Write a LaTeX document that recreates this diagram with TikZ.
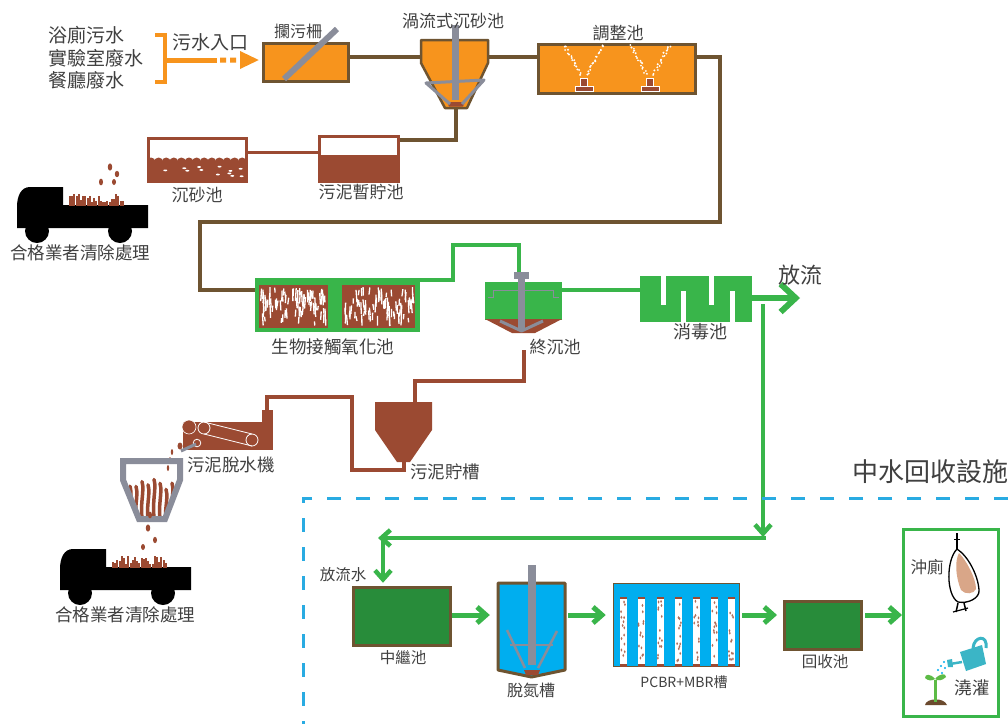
\documentclass[tikz,border=0pt]{standalone}
\usepackage{fontspec}
\newfontfamily\cjk{Noto Sans CJK TC}
\usetikzlibrary{arrows.meta,calc}

\definecolor{orng}{HTML}{F7941D}
\definecolor{pipebr}{HTML}{6E5431}
\definecolor{sludge}{HTML}{9B4A32}
\definecolor{grn}{HTML}{39B54A}
\definecolor{dgrn}{HTML}{288C3A}
\definecolor{blu}{HTML}{00AEEF}
\definecolor{dashblu}{HTML}{29ABE2}
\definecolor{metal}{HTML}{8A8D9A}
\definecolor{txt}{HTML}{404040}
\definecolor{skin}{HTML}{D9A688}
\definecolor{canteal}{HTML}{3BB5C6}
\definecolor{sprout}{HTML}{5DBB46}
\definecolor{soil}{HTML}{6B4A2E}

\tikzset{
  lbl/.style={font=\cjk\fontsize{#1}{#1}\selectfont, text=txt, inner sep=0pt},
  lbl/.default=17,
  tank/.style={draw=pipebr, line width=3.5pt, inner sep=0pt},
  pipe/.style={draw=pipebr, line width=4.5pt},
  slpipe/.style={draw=sludge, line width=4pt},
  gpipe/.style={draw=grn, line width=4pt},
  garrow/.style={draw=grn, line width=5pt, -{Straight Barb[length=9pt,width=16pt]}},
  chunk/.style={fill=sludge},
  truck/.pic={
    \fill[black] (0,41) -- (0,20) .. controls (0,9) and (4,0) .. (13,0) -- (46,0) -- (46,18) -- (131,18) -- (131,41) -- cycle;
    \fill[black] (20,44) circle[radius=12pt];
    \fill[black] (103,44) circle[radius=12pt];
    \foreach \k in {0,...,24}{
      \pgfmathsetmacro{\qa}{52+\k*2.2}
      \pgfmathsetmacro{\qb}{3+rnd*9}
      \fill[sludge] (\qa,18.5) rectangle ++(2,-\qb);
    }
  }
}

\begin{document}
\begin{tikzpicture}[x=1pt,y=-1pt]
\useasboundingbox (0,0) rectangle (1008,724);
\fill[white] (0,0) rectangle (1008,724);
\pgfmathsetseed{42}

% ---------------- inlet ----------------
\node[lbl=19, anchor=west] (src1) at (48,35) {浴廁污水};
\node[lbl=19, anchor=west] (src2) at (48,58) {實驗室廢水};
\node[lbl=19, anchor=west] (src3) at (48,80) {餐廳廢水};
\draw[orng, line width=4pt] (155,35) -- (165,35) -- (165,82) -- (155,82);
\coordinate (inlet) at (165,60);
\node[lbl=19] (inl) at (210,42) {污水入口};

% bar screen
\node[tank, fill=orng, minimum width=85pt, minimum height=38pt] (screen) at (306,62.5) {};
\draw[metal, line width=6pt] (284,79) -- (337,29);
\node[lbl=16] (screenL) at (298,31) {攔污柵};
\draw[orng, line width=5pt] (inlet) -- (217,60);
\fill[orng] (220,57.5) rectangle (226,62.5) (230,57.5) rectangle (236,62.5);
\fill[orng] (240,51) -- ($(screen.west |- inlet)+(-3,0)$) -- (240,69) -- cycle;

% vortex grit chamber
\coordinate (vxL) at (421,57);
\coordinate (vxR) at (488,57);
\coordinate (vxB) at (456,108);
\filldraw[draw=pipebr, fill=orng, line width=2.5pt, line join=round]
  (421,40) -- (488,40) -- (488,63) -- (467,108) -- (445,108) -- (421,63) -- cycle;
\fill[sludge] (447,102) -- (465,102) -- (463,106.5) -- (449,106.5) -- cycle;
\draw[metal, line width=7pt] (455,25) -- (455,100);
\draw[metal, line width=3pt, line join=round] (450,104) -- (426,83) -- (484,80) -- (462,104);
\node[lbl=17] (vxLbl) at (453,21) {渦流式沉砂池};
\draw[pipe] (screen.east |- vxL) -- (vxL);

% equalization tank
\node[tank, fill=orng, minimum width=157pt, minimum height=49pt] (eq) at (617,69) {};
\node[lbl=17] (eqLbl) at (618,33) {調整池};
\draw[pipe] (vxR) -- (eq.west |- vxR);
\foreach \cx in {584,650}{
  \foreach \k in {0,...,8}{
    \pgfmathsetmacro{\tv}{\k/8}
    \pgfmathsetmacro{\yy}{74-27*\tv}
    \fill[white] ({\cx-3-15*\tv+2*rnd-1},{\yy+2*rnd-1}) circle[radius=1.1pt];
    \fill[white] ({\cx+3+15*\tv+2*rnd-1},{\yy+2*rnd-1}) circle[radius=1.1pt];
    \fill[white] ({\cx-6-15*\tv+3*rnd},{\yy-2+2*rnd}) circle[radius=1pt];
    \fill[white] ({\cx+3+15*\tv+3*rnd},{\yy-2+2*rnd}) circle[radius=1pt];
  }
  \filldraw[fill=sludge, draw=white, line width=0.6pt] (\cx-3.5,78) rectangle (\cx+3.5,86);
  \filldraw[fill=sludge, draw=white, line width=0.6pt] (\cx-9,86) rectangle (\cx+9,91);
}

% main trunk to the contact oxidation tank
\node[draw=grn, fill=grn, line width=5pt, minimum width=160pt, minimum height=49pt] (bio) at (337.5,305) {};
\coordinate (bioIn) at (0,290);
\draw[pipe, line join=miter] (eq.east |- vxL) -- (720,57) -- (720,222) -- (200,222) -- (200,290) -- (bio.west |- bioIn);

% grit tank and sludge holding tank
\node[draw=sludge, line width=3pt, minimum width=98pt, minimum height=43pt] (grit) at (197.5,160) {};
\begin{scope}
  \clip (149,139) rectangle (246,181.5);
  \fill[sludge] (149,162) rectangle (246,182);
  \foreach \k in {0,...,12} \fill[sludge] (151+\k*7.6,162) circle[radius=4.5pt];
  \foreach \k in {1,...,12}{
    \pgfmathsetmacro{\qa}{152+rnd*90}
    \pgfmathsetmacro{\qb}{166+rnd*12}
    \fill[white] (\qa,\qb) ellipse[x radius=2pt, y radius=0.9pt];
  }
\end{scope}
\node[lbl] (gritLbl) at (197,195) {沉砂池};

\node[draw=sludge, line width=3pt, minimum width=79pt, minimum height=45pt] (hold) at (359,159) {};
\fill[sludge] (319,155) rectangle (399,182);
\node[lbl] (holdLbl) at (361,192) {污泥暫貯池};
\coordinate (gl) at (0,152);
\draw[draw=sludge, line width=3pt] (grit.east |- gl) -- (hold.west |- gl);
\coordinate (hl) at (0,140);
\draw[draw=pipebr, line width=3.5pt, line join=miter] (vxB) -- (456,140) -- (hold.east |- hl);

% truck 1
\pic at (17,187) {truck};
\fill[chunk] (110,167) ellipse[x radius=2.2pt, y radius=3.6pt];
\fill[chunk] (117,174) ellipse[x radius=2.2pt, y radius=3.2pt];
\fill[chunk] (101,182) ellipse[x radius=2pt, y radius=3.4pt];
\fill[chunk] (114,182) ellipse[x radius=2pt, y radius=3pt];
\node[lbl=17.5] (t1Lbl) at (80,253) {合格業者清除處理};

% contact oxidation tank media
\foreach \bx/\bw in {259/69,342/73}{
  \fill[sludge] (\bx,285) rectangle ++(\bw,43);
  \foreach \k in {1,...,80}{
    \pgfmathsetmacro{\qc}{4+rnd*9}
    \pgfmathsetmacro{\qa}{\bx+2+rnd*(\bw-4)}
    \pgfmathsetmacro{\qb}{287+rnd*(39-\qc)}
    \draw[white, line width=1.3pt] (\qa,\qb) -- ++({rnd*2-1},\qc);
  }
}
\node[lbl=17.5] (bioLbl) at (333,347) {生物接觸氧化池};

% final clarifier
\node[fill=grn, inner sep=0pt, minimum width=77pt, minimum height=38pt] (fcl) at (523.5,301) {};
\fill[sludge] (485,319) -- (562,319) -- (535,333) -- (512,333) -- cycle;
\draw[metal, line width=1pt] (488,297) -- (493,297) -- (493,290) -- (553,290) -- (553,297) -- (559,297);
\draw[metal, line width=7pt] (521.5,276) -- (521.5,330);
\fill[metal] (514,272) rectangle (529,279);
\draw[metal, line width=3pt, line join=round] (500,321) -- (521.5,331) -- (543,321);
\node[lbl] (fclLbl) at (555,347) {終沉池};
\coordinate (bioOut) at (0,280);
\draw[gpipe, line join=miter] (bio.east |- bioOut) -- (453,280) -- (453,245) -- (519,245) -- ($(fcl.north)+(-4.5,-10)$);

% disinfection tank
\node[fill=grn, inner sep=0pt, minimum width=112pt, minimum height=46pt] (dis) at (696,299) {};
\foreach \bxx in {660.5,708.5} \fill[white] (\bxx,276) rectangle ++(5,29);
\foreach \bxx in {680.5,729.5} \fill[white] (\bxx,291) rectangle ++(5,31);
\node[lbl=18] (disLbl) at (700,332) {消毒池};
\coordinate (clOut) at (0,290);
\draw[gpipe] (fcl.east |- clOut) -- (dis.west |- clOut);

\coordinate (outfall) at (800,298);
\draw[draw=grn, line width=6pt, -{Straight Barb[length=15pt,width=28pt]}] (dis.east |- outfall) -- (outfall);
\node[lbl=22] (outLbl) at (800,275) {放流};

% reuse branch
\coordinate (tap) at (763,304);
\coordinate (tapDown) at (763,537);
\coordinate (rtTurn) at (766,538);
\coordinate (rtEnd) at (378,538);
\draw[garrow, line width=4.5pt] (tap) -- (tapDown);
\draw[garrow, line width=4.5pt] (rtTurn) -- (rtEnd);

% ---------------- sludge line ----------------
\coordinate (stTop) at (415,402);
\fill[sludge] (375,402) -- (432,402) -- (432,430) -- (410,462) -- (397,462) -- (375,430) -- cycle;
\coordinate (stBot) at (404,461);
\node[lbl=17.5] (stLbl) at (445,472) {污泥貯槽};
\draw[slpipe, line join=miter] ($(fcl.south)+(0,30)$) -- (523.5,381) -- (415,381) -- (stTop);

% dewatering belt press
\fill[sludge] (183,422) rectangle (273,450);
\fill[sludge] (262,410) rectangle (273,423);
\coordinate (bpIn) at (267,411);
\draw[slpipe, line join=miter] (stBot) -- (404,470) -- (352,470) -- (352,397) -- (267,397) -- (bpIn);
\draw[white, line width=0.8pt] (204,422) -- (252,434);
\draw[white, line width=0.8pt] (204,434) -- (252,446);
\draw[white, line width=0.8pt] (204,428) circle[radius=6pt];
\draw[white, line width=0.8pt] (252,440) circle[radius=6pt];
\draw[white, line width=0.8pt] (197,443) circle[radius=3.8pt];
\filldraw[fill=sludge, draw=white, line width=0.6pt] (189,427) circle[radius=7pt];
\draw[metal, line width=3pt] (181,451) -- (196,444);
\fill[chunk] (180,446) ellipse[x radius=2.5pt, y radius=3.5pt];
\fill[chunk] (172,452) ellipse[x radius=1.2pt, y radius=3pt];
\fill[chunk] (170,460) ellipse[x radius=1.2pt, y radius=3pt];
\fill[chunk] (168,468) ellipse[x radius=1.2pt, y radius=3pt];
\node[lbl=17.5] (bpLbl) at (231,465) {污泥脫水機};

% hopper
\begin{scope}
  \clip (123,461) -- (180,461) -- (180,480) -- (165,519) -- (139,519) -- (123,480) -- cycle;
  \foreach \sx in {130,136,142,148,154,160,166,172}{
    \pgfmathsetmacro{\qa}{476+rnd*14}
    \draw[sludge, line width=3.5pt, line cap=round] (\sx,\qa) .. controls ({\sx+3},{\qa+10}) and ({\sx-3},{\qa+22}) .. ({\sx+1},525);
  }
\end{scope}
\draw[metal, line width=6pt, line join=miter] (123,461) -- (180,461) -- (180,480) -- (165,519) -- (139,519) -- (123,480) -- cycle;
\fill[chunk] (150,515) ellipse[x radius=2pt, y radius=3.4pt];
\fill[chunk] (148,528) ellipse[x radius=2.2pt, y radius=3.6pt];
\fill[chunk] (155,540) ellipse[x radius=2pt, y radius=3.2pt];
\fill[chunk] (143,547) ellipse[x radius=2pt, y radius=3pt];

% truck 2
\pic at (60,549) {truck};
\node[lbl=17.5] (t2Lbl) at (125,615) {合格業者清除處理};

% ---------------- water reuse facility ----------------
\draw[dashblu, line width=3pt, dash pattern=on 14pt off 15pt] (1008,498) -- (303,498) -- (303,724);
\node[lbl=26] (reuseLbl) at (930,472) {中水回收設施};

\coordinate (lvl) at (0,615);
\node[tank, fill=dgrn, minimum width=97pt, minimum height=58pt] (relay) at (402,616.5) {};
\node[lbl=15.5] (relayLbl) at (403,658) {中繼池};
\draw[garrow, line width=4.5pt] ($(rtEnd)+(5,0)$) -- ($(relay.north)+(-19,-3)$);
\node[lbl=15.5] (dischLbl) at (343,575) {放流水};

% denitrification tank
\filldraw[draw=pipebr, fill=blu, line width=3pt, line join=round]
  (498,583) -- (565,583) -- (565,670) -- (531.5,677) -- (498,670) -- cycle;
\node[inner sep=0pt, minimum width=67pt, minimum height=90pt] (dn) at (531.5,628) {};
\draw[metal, line width=2.5pt] (507,630) -- (525,668);
\draw[metal, line width=2.5pt] (557,631) -- (538,668);
\draw[metal, line width=2.5pt] (510,645) -- (553,645);
\draw[metal, line width=8pt] (532,565) -- (532,665);
\fill[sludge] (524,670) -- (540,670) -- (538,675) -- (526,675) -- cycle;
\node[lbl=16] (dnLbl) at (531,690) {脫氮槽};
\draw[garrow] (relay.east |- lvl) -- ($(dn.west |- lvl)+(-8,0)$);

% PCBR + MBR tank
\node[draw=pipebr, fill=blu, line width=1.5pt, inner sep=0pt, minimum width=126pt, minimum height=83pt] (mbr) at (676.5,625) {};
\foreach \mx in {620,637.5,656.5,675,693,711,727.5}{
  \fill[white] (\mx,597) rectangle ++(7,69);
  \fill[sludge] (\mx,597) rectangle ++(7,2);
  \fill[sludge] (\mx,664) rectangle ++(7,2.5);
  \foreach \k in {1,...,14}{
    \pgfmathsetmacro{\qa}{\mx+1+rnd*5}
    \pgfmathsetmacro{\qb}{601+rnd*60}
    \fill[sludge!80] (\qa,\qb) ellipse[x radius=0.9pt, y radius=1.6pt];
  }
}
\node[font=\cjk\fontsize{14}{14}\selectfont, text=txt, inner sep=0pt] (mbrLbl) at (684,682) {PCBR+MBR槽};
\draw[garrow] ($(dn.east |- lvl)+(3,0)$) -- ($(mbr.west |- lvl)+(-7,0)$);

% recovery tank
\node[tank, fill=dgrn, line width=3pt, minimum width=77pt, minimum height=48pt] (rec) at (823,625.5) {};
\node[lbl=15.5] (recLbl) at (825,662) {回收池};
\draw[garrow] ($(mbr.east |- lvl)+(2,0)$) -- ($(rec.west |- lvl)+(-6,0)$);

% reuse points
\node[draw=grn, line width=3pt, inner sep=0pt, minimum width=95pt, minimum height=187pt] (use) at (951,623) {};
\draw[garrow] ($(rec.east |- lvl)+(2,0)$) -- (use.west |- lvl);
\node[lbl=16.5] (flushLbl) at (927,567) {沖廁};
\node[lbl=17.5] (irrLbl) at (972,688) {澆灌};

% urinal
\draw[black, line width=1.2pt] (957,533) -- (957,549);
\draw[black, line width=1pt] (954,539) -- (960,539);
\filldraw[fill=white, draw=black, line width=1.3pt]
  (957,549) .. controls (946,560) and (946,595) .. (958,602)
  .. controls (968,604) and (980,598) .. (979,590)
  .. controls (978,575) and (968,556) .. (957,549) -- cycle;
\fill[skin] (959,553) .. controls (966,560) and (976,578) .. (976,589)
  .. controls (974,594) and (965,595) .. (961,590)
  .. controls (955,575) and (955,560) .. (959,553) -- cycle;
\draw[black, line width=1.5pt] (958,603) -- (956,612);
\draw[black, line width=1.5pt] (964,603) -- (966,611);
\draw[black, line width=1.2pt] (953,612) -- (968,608);

% watering can and seedling
\fill[canteal] (960,652) -- (982,645) -- (986,664) -- (966,671) -- cycle;
\draw[canteal, line width=3pt] (973,648) .. controls (974,636) and (988,634) .. (986,648);
\draw[canteal, line width=2.5pt] (962,662) -- (950,664);
\fill[canteal] (947,660) -- (952,659) -- (953,667) -- (948,667) -- cycle;
\foreach \p in {(944,662),(941,666),(945,668),(938,670),(942,673)} \fill[blu] \p circle[radius=1.2pt];
\fill[soil] (925,705) .. controls (926,698) and (944,697) .. (947,705) -- cycle;
\draw[sprout, line width=3pt] (935,702) -- (935,680);
\fill[sprout] (935,679) .. controls (930,673) and (925,674) .. (925,678) .. controls (928,681) and (932,681) .. (935,679);
\fill[sprout] (935,679) .. controls (940,673) and (946,673) .. (946,677) .. controls (942,681) and (938,681) .. (935,679);
\end{tikzpicture}
\end{document}
